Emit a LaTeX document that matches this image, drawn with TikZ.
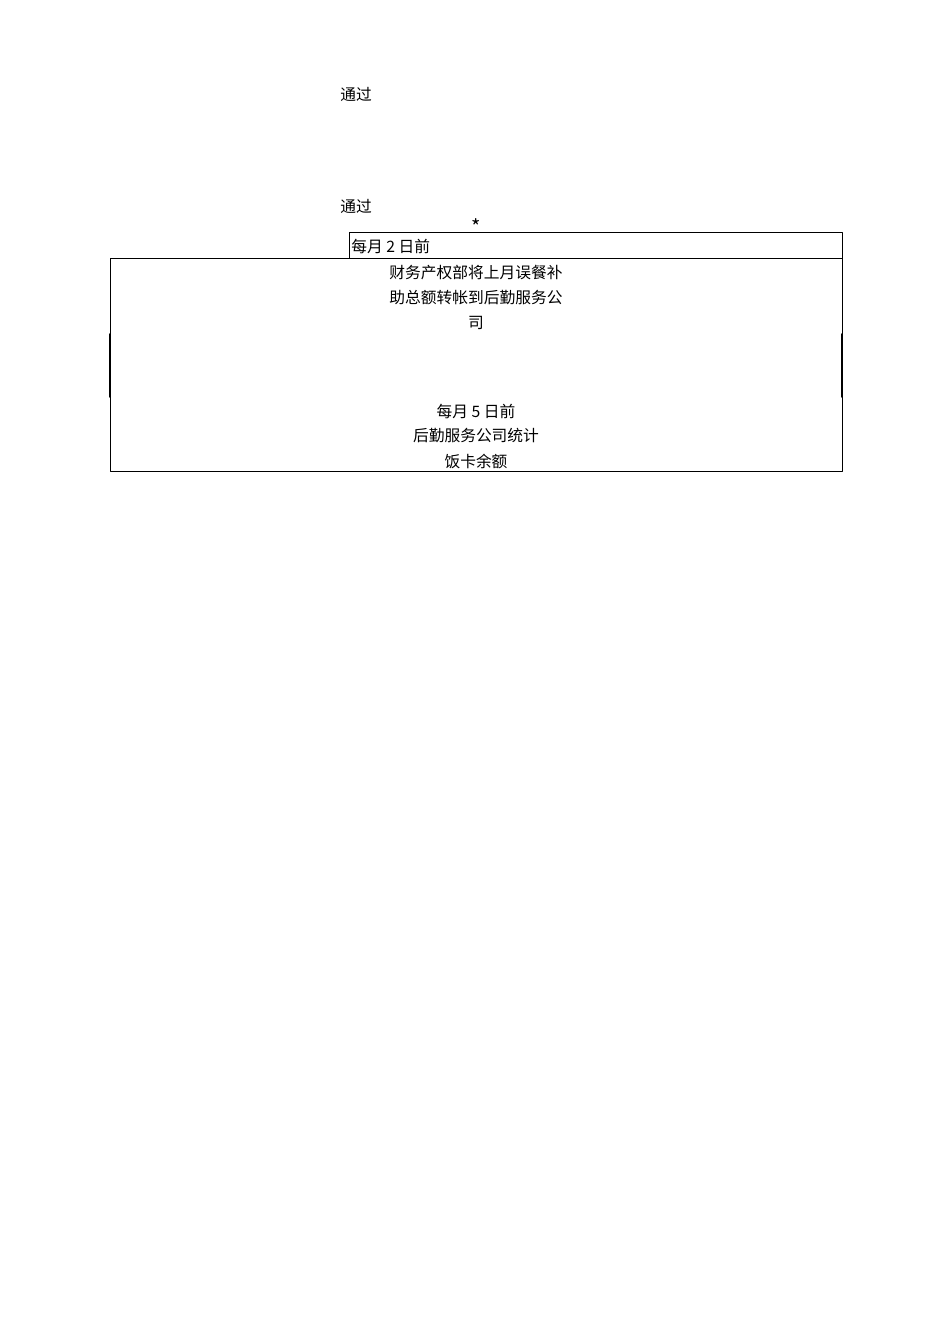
\documentclass[tikz,border=0pt]{standalone}
\usepackage{amsmath, tikz, tkz-euclide, xcolor}
\usepackage{fontspec}
\newfontfamily\cjk{Noto Sans CJK SC}
\tikzset{txt/.style={font=\cjk\fontsize{11.8}{14}\selectfont, inner sep=0pt}}

\begin{document}
\begin{tikzpicture}[x=0.75pt, y=0.75pt]
    \useasboundingbox (0,0) rectangle (950,-1344);
    \tkzDefPoints{349/-232/A, 842/-232/B, 842/-258/C, 349/-258/D}
    \tkzDefPoints{110/-258/E, 842/-471/F, 110/-471/G}
    \tkzDefPoints{110/-334/H, 110/-397/I, 842/-334/J, 842/-397/K}
    \tkzDrawPolygon[line width=0.7pt](A,B,C,D)
    \tkzDrawPolygon[line width=0.7pt](E,C,F,G)
    \tkzDrawSegments[line width=1.2pt](H,I J,K)
    \node[txt, anchor=west] (pass1) at (340,-94) {通过};
    \node[txt, anchor=west] (pass2) at (340,-206) {通过};
    \node[txt, font=\cjk\fontsize{15}{16}\selectfont] (star) at (476,-227) {*};
    \node[txt, anchor=west] (day2) at (351,-246) {每月 2 日前};
    \node[txt] (fin1) at (476,-273) {财务产权部将上月误餐补};
    \node[txt] (fin2) at (476,-298) {助总额转帐到后勤服务公};
    \node[txt] (fin3) at (476,-323) {司};
    \node[txt] (day5) at (476,-411) {每月 5 日前};
    \node[txt] (svc1) at (476,-436) {后勤服务公司统计};
    \node[txt] (svc2) at (476,-461) {饭卡余额};
    \end{tikzpicture}
\end{document}
